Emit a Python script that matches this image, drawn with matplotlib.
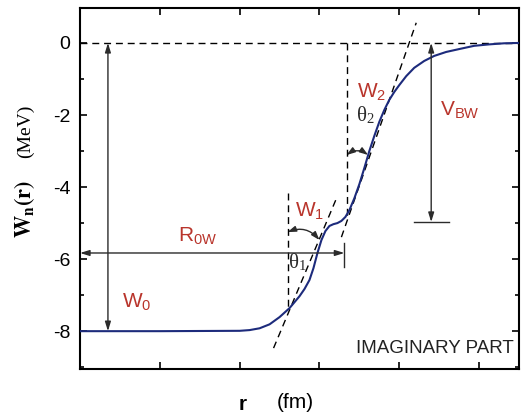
import matplotlib
matplotlib.use("Agg")
import matplotlib.pyplot as plt
from matplotlib.patches import FancyArrowPatch
from matplotlib.ticker import MultipleLocator

plt.rcParams['font.family'] = ['Liberation Sans', 'DejaVu Sans']
plt.rcParams['axes.unicode_minus'] = False
plt.rcParams['mathtext.fontset'] = 'custom'
plt.rcParams['mathtext.rm'] = 'Liberation Sans'
plt.rcParams['mathtext.it'] = 'Liberation Sans:italic'
plt.rcParams['mathtext.bf'] = 'Liberation Sans:bold'

# imaginary part of the potential (r in tick units)
r = [0.0, 1.0, 1.5, 2.0, 2.125, 2.25, 2.375, 2.5, 2.625, 2.75, 2.8125,
     2.875, 2.925, 2.975, 3.025, 3.075, 3.125, 3.175, 3.225, 3.275, 3.325,
     3.375, 3.4375, 3.5, 3.5625, 3.625, 3.6875, 3.75, 3.8125, 3.875, 3.9375,
     4.0, 4.0875, 4.1875, 4.3125, 4.4375, 4.5875, 4.75, 4.9375, 5.125,
     5.3125, 5.5]
W = [-8.0, -8.0, -7.995, -7.99, -7.97, -7.92, -7.81, -7.61, -7.36, -7.03, -6.83,
     -6.58, -6.25, -5.83, -5.47, -5.22, -5.08, -5.03, -5.0, -4.94, -4.83,
     -4.64, -4.31, -3.92, -3.47, -3.0, -2.58, -2.19, -1.86, -1.58, -1.36,
     -1.17, -0.92, -0.69, -0.5, -0.36, -0.25, -0.17, -0.08, -0.04,
     -0.01, 0.0]

yticks = [0, -2, -4, -6, -8]
xticks = [0, 1, 2, 3, 4, 5]

# guide lines (tangents / verticals) and markers
tangent1 = ([2.425, 3.225], [-8.47, -4.25])
tangent2 = ([3.275, 4.2125], [-5.39, 0.56])
vert1 = ([2.6, 2.6], [-4.17, -7.4])
vert2 = ([3.34, 3.34], [0.0, -4.83])
W0_x, R0W_x, R0W_y = 0.35, 3.3125, -5.83
VBW_x, VBW_y = 4.4, -4.97

red = '#b9352c'
ink = '#2b2b2b'

fig = plt.figure(figsize=(5.22, 4.18), dpi=100)
ax = fig.add_axes([80 / 522, 49 / 418, 439 / 522, 361 / 418])

ax.plot(r, W, color='#1d2b7c', lw=1.5, zorder=3, solid_joinstyle='round')

dash = (0, (5, 3.5))
ax.plot([0, 5.5], [0, 0], color='k', lw=1, ls=dash)
for seg in (tangent1, tangent2, vert1, vert2):
    ax.plot(*seg, color='k', lw=1, ls=dash)

def darrow(p0, p1):
    ax.annotate('', xy=p1, xytext=p0,
                arrowprops=dict(arrowstyle='<|-|>,head_length=0.55,head_width=0.17',
                                color=ink, lw=1, shrinkA=0, shrinkB=0))

darrow((W0_x, 0), (W0_x, -8))
darrow((0, R0W_y), (R0W_x, R0W_y))
ax.plot([R0W_x, R0W_x], [-5.56, -6.22], color=ink, lw=1)
darrow((VBW_x, 0), (VBW_x, VBW_y))
ax.plot([4.19, 4.625], [VBW_y, VBW_y], color=ink, lw=1)

for a, b in (((2.6, -5.25), (3.0, -5.47)), ((3.34, -3.11), (3.61, -3.11))):
    ax.add_patch(FancyArrowPatch(a, b, connectionstyle='arc3,rad=-0.35',
                                 arrowstyle='<|-|>,head_length=0.5,head_width=0.17',
                                 mutation_scale=10, color=ink, lw=1,
                                 shrinkA=0, shrinkB=0))

lab = dict(color=red, fontsize=15, ha='center', va='center')
ax.text(0.71, -7.2, r'W$_\mathregular{0}$', **lab)
ax.text(1.47, -5.36, r'R$_\mathregular{0W}$', **lab)
ax.text(2.875, -4.67, r'W$_\mathregular{1}$', **lab)
ax.text(3.65, -1.36, r'W$_\mathregular{2}$', **lab)
ax.text(4.76, -1.86, r'V$_\mathregular{BW}$', **lab)

th = dict(fontsize=15, ha='center', va='center', color=ink,
          family='Liberation Serif', math_fontfamily='stix')
ax.text(2.725, -6.08, r'θ$_\mathregular{1}$', **th)
ax.text(3.575, -2.0, r'θ$_\mathregular{2}$', **th)

ax.text(5.44, -8.47, 'IMAGINARY PART', fontsize=13.5, ha='right',
        va='center', color='#222')

ax.set_xlim(0, 5.5)
ax.set_ylim(-9.05, 0.97)
ax.set_xticks(xticks)
ax.set_xticklabels([])
ax.set_yticks(yticks)
ax.set_yticklabels([str(v) for v in yticks])
ax.yaxis.set_minor_locator(MultipleLocator(1))
ax.tick_params(which='both', direction='in', top=True, right=True,
               width=1.2, labelsize=14, pad=7)
ax.tick_params(which='major', length=5)
ax.tick_params(which='minor', length=3)
for s in ax.spines.values():
    s.set_linewidth(1.5)

fig.text(25 / 522, 1 - 209 / 418, r'$\mathbf{W_n(r)}$', rotation=90,
         fontsize=16, ha='center', va='center', math_fontfamily='stix')
fig.text(25 / 522, 1 - 131 / 418, '(MeV)', rotation=90, fontsize=14,
         family='Liberation Serif', ha='center', va='center')
fig.text(243 / 522, 1 - 404 / 418, 'r', fontsize=15, fontweight='bold',
         ha='center', va='center')
fig.text(295 / 522, 1 - 403 / 418, '(fm)', fontsize=15, ha='center',
         va='center')

fig.savefig('out.png', dpi=100)
